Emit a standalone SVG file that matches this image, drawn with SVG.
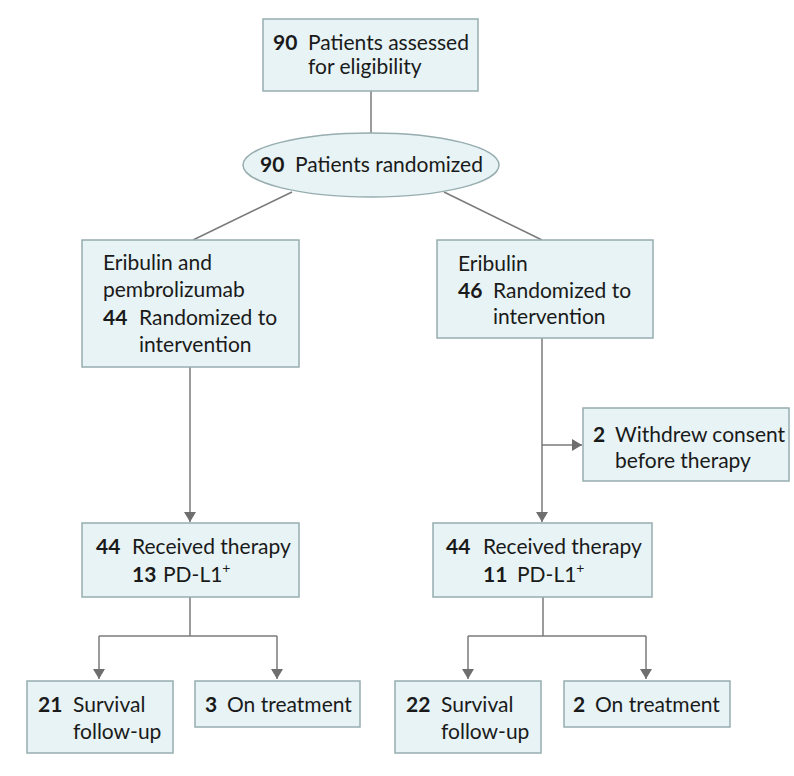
<svg xmlns="http://www.w3.org/2000/svg" width="794" height="776" viewBox="0 0 794 776">
<defs>
<style>
.box{fill:#e7f3f4;stroke:#97adb0;stroke-width:1.5}
.t{font-family:Lato,"Open Sans","Liberation Sans",sans-serif;font-size:21px;fill:#1a1a1a}
.b{font-weight:bold}
.c{fill:none;stroke:#7a7a7a;stroke-width:1.5}
</style>
<marker id="ah" viewBox="0 0 10 12" refX="10" refY="6" markerWidth="10" markerHeight="12" markerUnits="userSpaceOnUse" orient="auto">
<path d="M0,0 L10,6 L0,12 Z" fill="#6e6e6e"/>
</marker>
</defs>
<rect width="794" height="776" fill="#ffffff"/>
<g id="connectors">
<line class="c" x1="371" y1="91" x2="371" y2="133"/>
<line class="c" x1="292" y1="192" x2="193" y2="240"/>
<line class="c" x1="444" y1="192" x2="542" y2="240"/>
<line class="c" x1="190" y1="367" x2="190" y2="522" marker-end="url(#ah)"/>
<line class="c" x1="542" y1="338" x2="542" y2="522" marker-end="url(#ah)"/>
<line class="c" x1="542" y1="445" x2="582" y2="445" marker-end="url(#ah)"/>
<polyline class="c" points="190,597 190,636"/>
<polyline class="c" points="99,636 277,636"/>
<line class="c" x1="99" y1="636" x2="99" y2="679" marker-end="url(#ah)"/>
<line class="c" x1="277" y1="636" x2="277" y2="679" marker-end="url(#ah)"/>
<polyline class="c" points="543,597 543,636"/>
<polyline class="c" points="468,636 646,636"/>
<line class="c" x1="468" y1="636" x2="468" y2="679" marker-end="url(#ah)"/>
<line class="c" x1="646" y1="636" x2="646" y2="679" marker-end="url(#ah)"/>
</g>
<g id="assessed">
<rect class="box" x="263" y="19" width="215" height="72"/>
<text class="t" x="273" y="50"><tspan class="b">90</tspan><tspan x="308">Patients assessed</tspan></text>
<text class="t" x="308" y="74">for eligibility</text>
</g>
<g id="randomized">
<ellipse class="box" cx="371" cy="165" rx="128" ry="32"/>
<text class="t" x="260" y="172"><tspan class="b">90</tspan><tspan x="295">Patients randomized</tspan></text>
</g>
<g id="arm-combo">
<rect class="box" x="82" y="240" width="217" height="127"/>
<text class="t" x="103" y="270">Eribulin and</text>
<text class="t" x="103" y="297">pembrolizumab</text>
<text class="t" x="103" y="325"><tspan class="b">44</tspan><tspan x="139">Randomized to</tspan></text>
<text class="t" x="139" y="352">intervention</text>
</g>
<g id="arm-eribulin">
<rect class="box" x="437" y="240" width="216" height="98"/>
<text class="t" x="458" y="271">Eribulin</text>
<text class="t" x="458" y="298"><tspan class="b">46</tspan><tspan x="493">Randomized to</tspan></text>
<text class="t" x="493" y="324">intervention</text>
</g>
<g id="withdrew">
<rect class="box" x="583" y="408" width="206" height="73"/>
<text class="t" x="593" y="442"><tspan class="b">2</tspan><tspan x="615">Withdrew consent</tspan></text>
<text class="t" x="615" y="468">before therapy</text>
</g>
<g id="received-combo">
<rect class="box" x="82" y="523" width="217" height="74"/>
<text class="t" x="96" y="554"><tspan class="b">44</tspan><tspan x="132">Received therapy</tspan></text>
<text class="t" x="132" y="582"><tspan class="b">13</tspan><tspan x="163">PD-L1</tspan><tspan font-size="14" dy="-9">+</tspan></text>
</g>
<g id="received-eribulin">
<rect class="box" x="433" y="523" width="219" height="74"/>
<text class="t" x="446" y="554"><tspan class="b">44</tspan><tspan x="483">Received therapy</tspan></text>
<text class="t" x="483" y="582"><tspan class="b">11</tspan><tspan x="517">PD-L1</tspan><tspan font-size="14" dy="-9">+</tspan></text>
</g>
<g id="survival-combo">
<rect class="box" x="27" y="681" width="146" height="72"/>
<text class="t" x="38" y="712"><tspan class="b">21</tspan><tspan x="73">Survival</tspan></text>
<text class="t" x="73" y="739">follow-up</text>
</g>
<g id="ontreat-combo">
<rect class="box" x="195" y="681" width="165" height="46"/>
<text class="t" x="205" y="712"><tspan class="b">3</tspan><tspan x="227">On treatment</tspan></text>
</g>
<g id="survival-eribulin">
<rect class="box" x="395" y="681" width="146" height="72"/>
<text class="t" x="406" y="712"><tspan class="b">22</tspan><tspan x="441">Survival</tspan></text>
<text class="t" x="441" y="739">follow-up</text>
</g>
<g id="ontreat-eribulin">
<rect class="box" x="564" y="681" width="166" height="46"/>
<text class="t" x="573" y="712"><tspan class="b">2</tspan><tspan x="595">On treatment</tspan></text>
</g>
</svg>
